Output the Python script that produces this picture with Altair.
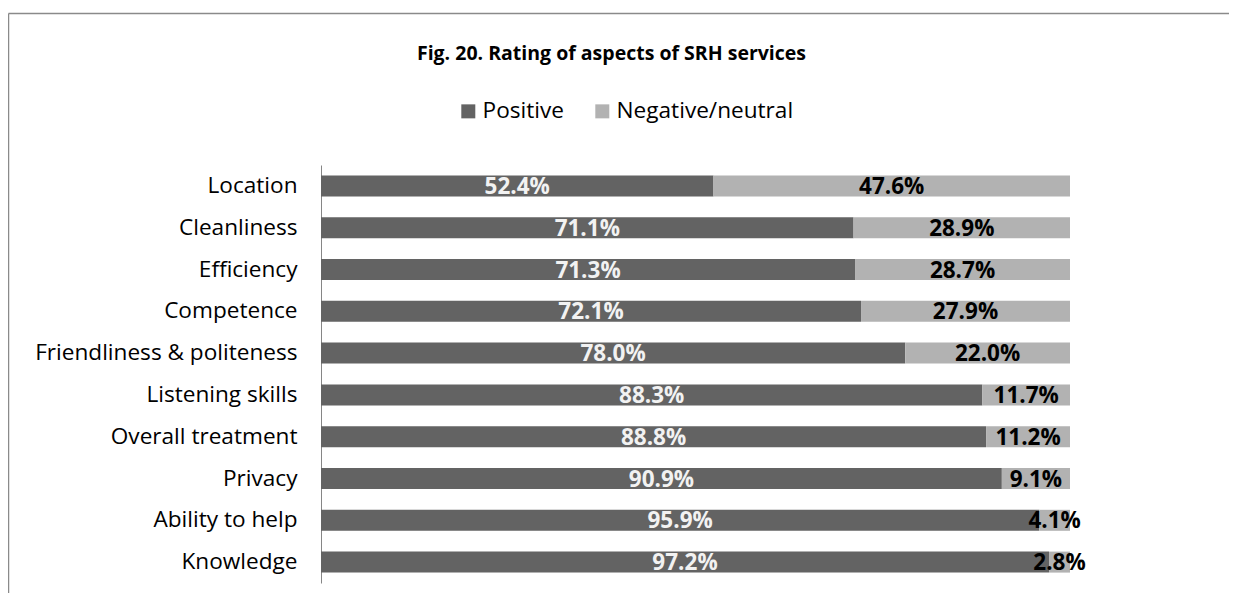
import altair as alt
import pandas as pd

categories = ["Location", "Cleanliness", "Efficiency", "Competence",
              "Friendliness & politeness", "Listening skills", "Overall treatment",
              "Privacy", "Ability to help", "Knowledge"]
positive = [52.4, 71.1, 71.3, 72.1, 78.0, 88.3, 88.8, 90.9, 95.9, 97.2]
negative = [47.6, 28.9, 28.7, 27.9, 22.0, 11.7, 11.2, 9.1, 4.1, 2.8]
series = ["Positive", "Negative/neutral"]
colors = ["#636363", "#b2b2b2"]
label_colors = ["#f2f2f2", "#000000"]

rows = []
for c, p, n in zip(categories, positive, negative):
    rows.append({"cat": c, "series": series[0], "start": 0.0, "end": p, "value": p,
                 "label": f"{p:.1f}%", "lc": label_colors[0]})
    rows.append({"cat": c, "series": series[1], "start": p, "end": p + n, "value": n,
                 "label": f"{n:.1f}%", "lc": label_colors[1]})
df = pd.DataFrame(rows)
df["mid"] = (df["start"] + df["end"]) / 2

FONT = "Open Sans"
W, H = 749, 418
PAD = {"left": 313, "top": 157, "right": 159, "bottom": 10}

y_enc = alt.Y("cat:N", sort=categories, title=None,
              scale=alt.Scale(paddingInner=0.49, paddingOuter=0.245),
              axis=alt.Axis(ticks=False, labelPadding=24, labelFontSize=22.6,
                            labelFont=FONT, labelColor="#000000", labelLimit=400,
                            domainColor="#868686", domainWidth=1, grid=False))
x_scale = alt.Scale(domain=[0, 100], nice=False, zero=True)

bars = alt.Chart(df).mark_bar(size=21).encode(
    y=y_enc,
    x=alt.X("start:Q", scale=x_scale, axis=None),
    x2="end:Q",
    color=alt.Color("series:N", sort=series,
                    scale=alt.Scale(domain=series, range=colors),
                    legend=alt.Legend(title=None, orient="none", direction="horizontal",
                                      legendX=136, legendY=-65,
                                      symbolType="square", symbolSize=196,
                                      symbolStrokeWidth=0,
                                      labelFontSize=22.6, labelFont=FONT, labelLimit=400,
                                      labelColor="#000000", labelOffset=3,
                                      columnPadding=27, padding=0)),
)

labels = alt.Chart(df).mark_text(fontSize=22.5, font=FONT, fontWeight="bold",
                                 baseline="middle", dy=1).encode(
    y=alt.Y("cat:N", sort=categories),
    x=alt.X("mid:Q", scale=x_scale),
    text="label:N",
    color=alt.Color("lc:N", scale=None, legend=None),
)

frame_data = alt.Data(values=[{"k": 1}])
top_line = alt.Chart(frame_data).mark_rule(color="#8a8a8a", strokeWidth=1.5).encode(
    x=alt.value(-312.5), x2=alt.value(W + PAD["right"]), y=alt.value(-151.5))
left_line = alt.Chart(frame_data).mark_rule(color="#8a8a8a", strokeWidth=1.5).encode(
    x=alt.value(-312.5), y=alt.value(-151.5), y2=alt.value(H + PAD["bottom"]))

chart = alt.layer(bars, labels, top_line, left_line).properties(
    width=W, height=H,
    title=alt.TitleParams("Fig. 20. Rating of aspects of SRH services",
                          fontSize=19.5, font=FONT, fontWeight="bold", color="#000000",
                          anchor="middle", dx=-84, offset=0, dy=52),
    autosize=alt.AutoSizeParams(type="none"),
    padding=PAD,
).configure_view(stroke=None).resolve_scale(color="independent")

chart.save("out.html", embed_options={"renderer": "svg", "actions": False})
